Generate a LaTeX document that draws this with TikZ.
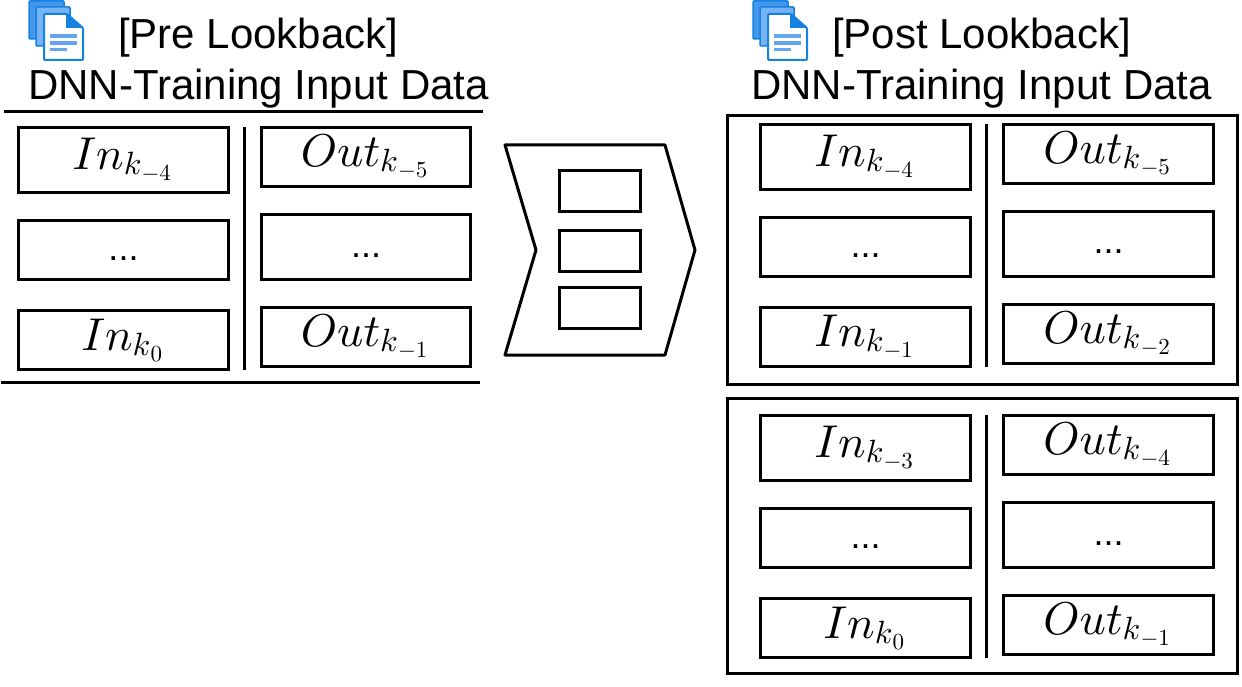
\documentclass[tikz,border=0pt]{standalone}
\usepackage{graphicx}
\usepackage{fontspec}
\setmainfont{Liberation Sans}
\usetikzlibrary{positioning}
\definecolor{sheetback}{RGB}{66,150,236}
\definecolor{sheetmid}{RGB}{120,178,245}
\definecolor{sheetedge}{RGB}{20,130,225}
\definecolor{sheetline}{RGB}{100,165,240}
\tikzset{
	cellbox/.style = {rectangle, draw=black, line width=3pt, minimum width=209.5pt, inner sep=0pt},
	dotbox/.style = {cellbox, text height=20pt, text depth=0pt, font=\fontsize{36}{40}\selectfont},
	layerbox/.style = {rectangle, draw=black, line width=3pt, minimum width=81pt, minimum height=41pt, inner sep=0pt},
	framebox/.style = {rectangle, draw=black, line width=3pt, minimum width=510pt, inner sep=0pt},
	heading/.style = {inner sep=0pt, anchor=base west, font=\fontsize{42}{46}\selectfont},
	rule/.style = {line width=3pt}
}
% symbol with index k and a second level index
\newcommand{\cellmath}[2]{\scalebox{4.6}{$#1$\raisebox{-1.2pt}{\scalebox{.7}{$k$}}\raisebox{-2.4pt}{\scalebox{.5}{$#2$}}\kern0.8pt}}
% stacked document symbol, x and y give its top left corner
\newcommand{\docstack}[2]{
	\begin{scope}[shift={(#1,#2)}]
		\filldraw [draw=sheetedge, fill=sheetback, line width=1.5pt, rounded corners=1pt] (0,0) -- (35,0) -- (35,38) -- (0,38) -- cycle;
		\filldraw [draw=sheetedge, fill=sheetmid, line width=1.5pt, rounded corners=1pt] (7,6) -- (41,6) -- (41,45) -- (7,45) -- cycle;
		\filldraw [draw=sheetedge, fill=white, line width=2pt, rounded corners=1pt] (15,13) -- (38,13) -- (54,27) -- (54,59) -- (15,59) -- cycle;
		\fill [sheetedge] (37,13) -- (54,27) -- (37,27) -- cycle;
		\draw [sheetline, line width=3.5pt] (21,35) -- (48,35) (21,42) -- (48,42) (21,48.5) -- (38,48.5);
	\end{scope}
}

\begin{document}
\begin{tikzpicture}[x=1pt, y=-1pt]
	\useasboundingbox (0,0) rectangle (1242,687);

	% Pre lookback data
	\docstack{29}{1}
	\node (pre_title) [heading] at (118,49) {[Pre Lookback]};
	\node (pre_sub) [heading] at (28,100) {DNN-Training Input Data};
	\coordinate (pre_top_l) at (4,112);
	\coordinate (pre_top_r) at (483,112);
	\coordinate (pre_bot_l) at (1,382);
	\coordinate (pre_bot_r) at (480,382);
	\draw [rule] (pre_top_l) -- (pre_top_r);
	\draw [rule] (pre_bot_l) -- (pre_bot_r);

	\node (pre_in_a) [cellbox, minimum height=64.5pt] at (123.5,160) {\cellmath{In}{-4}};
	\node (pre_in_b) [dotbox, minimum height=58.5pt] at (123.5,250) {...};
	\node (pre_in_c) [cellbox, minimum height=58.5pt] at (123.5,340) {\cellmath{In}{0}};
	\node (pre_out_a) [cellbox, minimum height=58.5pt] at (366,157) {\cellmath{Out}{-5}};
	\node (pre_out_b) [dotbox, minimum height=64.5pt] at (366,247) {...};
	\node (pre_out_c) [cellbox, minimum height=58.5pt] at (366,337) {\cellmath{Out}{-1}};
	\coordinate (pre_div_t) at (244,127);
	\coordinate (pre_div_b) at (244,370);
	\draw [rule] (pre_div_t) -- (pre_div_b);

	% Lookback layers
	\coordinate (lb_a) at (505,145);
	\coordinate (lb_b) at (665,145);
	\coordinate (lb_c) at (695,250);
	\coordinate (lb_d) at (665,355);
	\coordinate (lb_e) at (505,355);
	\coordinate (lb_f) at (536,250);
	\draw [rule, line join=round] (lb_a) -- (lb_b) -- (lb_c) -- (lb_d) -- (lb_e) -- (lb_f) -- cycle;
	\node (layer_a) [layerbox] at (600,191) {};
	\node (layer_b) [layerbox] at (600,251) {};
	\node (layer_c) [layerbox] at (600,308) {};

	% Post lookback data
	\docstack{753}{1}
	\node (post_title) [heading] at (832,49) {[Post Lookback]};
	\node (post_sub) [heading] at (751,100) {DNN-Training Input Data};

	% first window
	\node (frame_a) [framebox, minimum height=269.5pt] at (982.5,250) {};
	\node (a_in_a) [cellbox, minimum height=64.5pt] at (865.5,157) {\cellmath{In}{-4}};
	\node (a_in_b) [dotbox, minimum height=58.5pt] at (865.5,247) {...};
	\node (a_in_c) [cellbox, minimum height=58.5pt] at (865.5,337) {\cellmath{In}{-1}};
	\node (a_out_a) [cellbox, minimum height=58.5pt] at (1108.5,154) {\cellmath{Out}{-5}};
	\node (a_out_b) [dotbox, minimum height=64.5pt] at (1108.5,244) {...};
	\node (a_out_c) [cellbox, minimum height=58.5pt] at (1108.5,334) {\cellmath{Out}{-2}};
	\coordinate (a_div_t) at (986,124);
	\coordinate (a_div_b) at (986,367);
	\draw [rule] (a_div_t) -- (a_div_b);

	% second window
	\node (frame_b) [framebox, minimum height=275pt] at (982.5,535.5) {};
	\node (b_in_a) [cellbox, minimum height=64.5pt] at (865.5,448) {\cellmath{In}{-3}};
	\node (b_in_b) [dotbox, minimum height=58.5pt] at (865.5,538) {...};
	\node (b_in_c) [cellbox, minimum height=58.5pt] at (865.5,628) {\cellmath{In}{0}};
	\node (b_out_a) [cellbox, minimum height=58.5pt] at (1108.5,445) {\cellmath{Out}{-4}};
	\node (b_out_b) [dotbox, minimum height=64.5pt] at (1108.5,535) {...};
	\node (b_out_c) [cellbox, minimum height=58.5pt] at (1108.5,625) {\cellmath{Out}{-1}};
	\coordinate (b_div_t) at (986,415);
	\coordinate (b_div_b) at (986,658);
	\draw [rule] (b_div_t) -- (b_div_b);

\end{tikzpicture}
\end{document}
